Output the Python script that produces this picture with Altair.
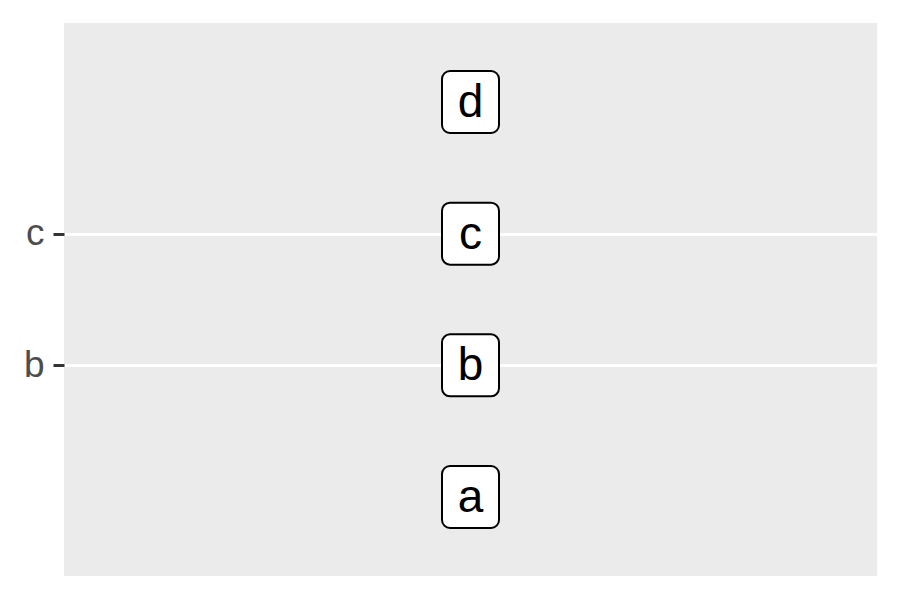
import altair as alt
import pandas as pd

categories = ["a", "b", "c", "d"]
x_values = [0.5, 0.5, 0.5, 0.5]
y_breaks = ["b", "c"]

df = pd.DataFrame({"cat": categories, "x": x_values, "lab": categories})

yscale = alt.Scale(type="point", domain=categories[::-1], padding=0.6)
xscale = alt.Scale(domain=[0, 1])

yenc = alt.Y("cat:O", scale=yscale, title=None,
             axis=alt.Axis(values=y_breaks, grid=True, gridColor="white", gridWidth=3,
                           tickColor="#333333", tickWidth=3, tickSize=11,
                           labelColor="#4D4D4D", labelFontSize=37, labelFont="Liberation Sans",
                           labelPadding=9, domain=False, zindex=0))
xenc = alt.X("x:Q", scale=xscale, axis=None)

box = alt.Chart(df).mark_rect(width=57, height=62, cornerRadius=8, fill="white",
                              stroke="black", strokeWidth=2).encode(x=xenc, y=yenc)
text = alt.Chart(df).mark_text(fontSize=46, font="Liberation Sans", color="black",
                               baseline="middle", dy=1).encode(x=xenc, y=yenc, text="lab:N")

chart = (box + text).properties(
    width=813, height=553,
    autosize=alt.AutoSizeParams(type="none"),
    padding={"left": 56, "top": 15, "right": 0, "bottom": 0},
).configure_view(fill="#EBEBEB", stroke=None)

chart.save("out.html", embed_options={"renderer": "svg", "actions": False})
